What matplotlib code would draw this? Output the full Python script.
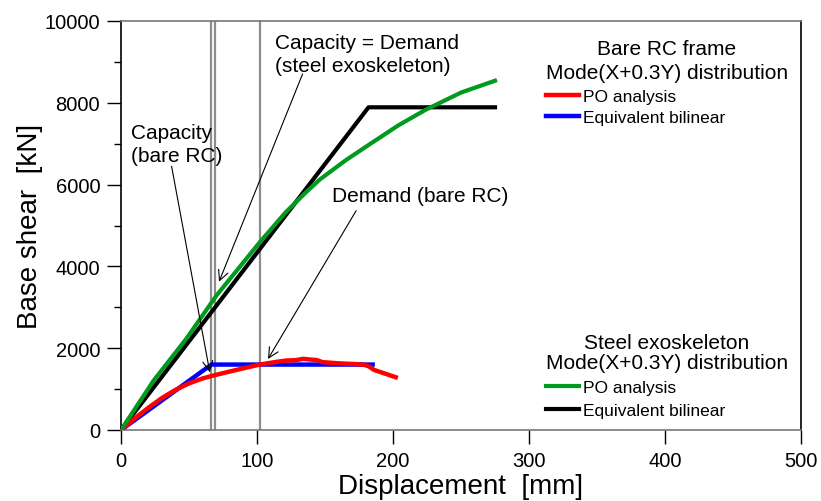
import matplotlib
matplotlib.use("Agg")
import matplotlib.pyplot as plt

plt.rcParams['font.family'] = ['Liberation Sans', 'DejaVu Sans']

# Bare RC frame - pushover (PO) analysis
rc_po_x = [0, 10, 20, 30, 40, 50, 60, 70, 85, 102, 115, 122, 128, 134, 140, 144, 148, 160, 170, 178, 182, 186, 194, 202]
rc_po_y = [0, 280, 540, 780, 980, 1140, 1260, 1350, 1470, 1600, 1670, 1700, 1705, 1740, 1720, 1710, 1660, 1630, 1615, 1600, 1560, 1470, 1380, 1290]
# Bare RC frame - equivalent bilinear
rc_bl_x = [0, 66.5, 185]
rc_bl_y = [0, 1600, 1600]
# Steel exoskeleton - PO analysis
se_po_x = [0, 24, 48, 70, 102, 121, 135, 146, 165, 183, 204, 224, 250, 275]
se_po_y = [0, 1210, 2230, 3280, 4590, 5320, 5780, 6120, 6590, 6990, 7450, 7830, 8250, 8540]
# Steel exoskeleton - equivalent bilinear
se_bl_x = [0, 182, 275]
se_bl_y = [0, 7890, 7890]
# Vertical reference lines (capacity / demand displacements)
vlines_x = [66.5, 69.3, 102.2]

fig = plt.figure(figsize=(8.21, 5.02), dpi=100)
ax = fig.add_axes([121/821, 1-431/502, 680/821, 409/502])

for xv in vlines_x:
    ax.axvline(xv, color='#8c8c8c', lw=1.6, zorder=1)

l_rc_po, = ax.plot(rc_po_x, rc_po_y, color='#ff0000', lw=3.2, zorder=3)
l_rc_bl, = ax.plot(rc_bl_x, rc_bl_y, color='#0000ff', lw=3.2, zorder=2)
l_se_po, = ax.plot(se_po_x, se_po_y, color='#009a1e', lw=3.0, zorder=3)
l_se_bl, = ax.plot(se_bl_x, se_bl_y, color='#000000', lw=3.0, zorder=2)

ax.set_xlim(0, 500)
ax.set_ylim(0, 10000)
ax.set_xticks([0, 100, 200, 300, 400, 500])
ax.set_yticks([0, 2000, 4000, 6000, 8000, 10000])
ax.set_yticks([1000, 3000, 5000, 7000, 9000], minor=True)
ax.tick_params(axis='both', which='major', direction='out', length=10, width=1, labelsize=14.5, pad=5)
ax.tick_params(axis='y', which='minor', direction='out', length=5, width=1)

ax.spines['left'].set_color('black')
ax.spines['right'].set_color('black')
ax.spines['top'].set_color('#777777')
ax.spines['bottom'].set_color('#777777')
for s in ax.spines.values():
    s.set_linewidth(1.2)

ax.set_xlabel('Displacement  [mm]', fontsize=20, labelpad=2)
ax.set_ylabel('Base shear  [kN]', fontsize=20, labelpad=1)

arrowprops = dict(arrowstyle='->', color='black', lw=0.8, mutation_scale=18, shrinkA=0, shrinkB=0)
ax.text(113.5, 8785, 'Capacity = Demand\n(steel exoskeleton)', ha='left', va='baseline',
        fontsize=15, linespacing=1.25, zorder=5)
ax.annotate('', xy=(72.1, 3626), xytext=(133.5, 8704), arrowprops=arrowprops)
ax.text(7.5, 6584, 'Capacity\n(bare RC)', ha='left', va='baseline',
        fontsize=15, linespacing=1.25, zorder=5)
ax.annotate('', xy=(65.3, 1410), xytext=(37.2, 6447), arrowprops=arrowprops)
ax.text(155.5, 5606, 'Demand (bare RC)', ha='left', va='baseline', fontsize=15)
ax.annotate('', xy=(108.1, 1736), xytext=(172.9, 5362), arrowprops=arrowprops)

common = dict(title_fontsize=15, fontsize=12.5, frameon=False, loc='upper left',
              handlelength=1.9, handletextpad=0.25, borderpad=0,
              borderaxespad=0, alignment='left')
leg1 = ax.legend([l_rc_po, l_rc_bl], ['PO analysis', 'Equivalent bilinear'],
                 title='Bare RC frame\nMode(X+0.3Y) distribution', labelspacing=0.36,
                 bbox_to_anchor=(0.6245, 0.955), **common)
ax.add_artist(leg1)
leg1.get_title().set_multialignment('center')
leg1.get_title().set_linespacing(1.32)
leg2 = ax.legend([l_se_po, l_se_bl], ['PO analysis', 'Equivalent bilinear'],
                 title='Steel exoskeleton\nMode(X+0.3Y) distribution', labelspacing=0.45,
                 bbox_to_anchor=(0.6245, 0.238), **common)
leg2.get_title().set_multialignment('center')
leg2.get_title().set_linespacing(1.1)

fig.savefig('out.png', dpi=100)
